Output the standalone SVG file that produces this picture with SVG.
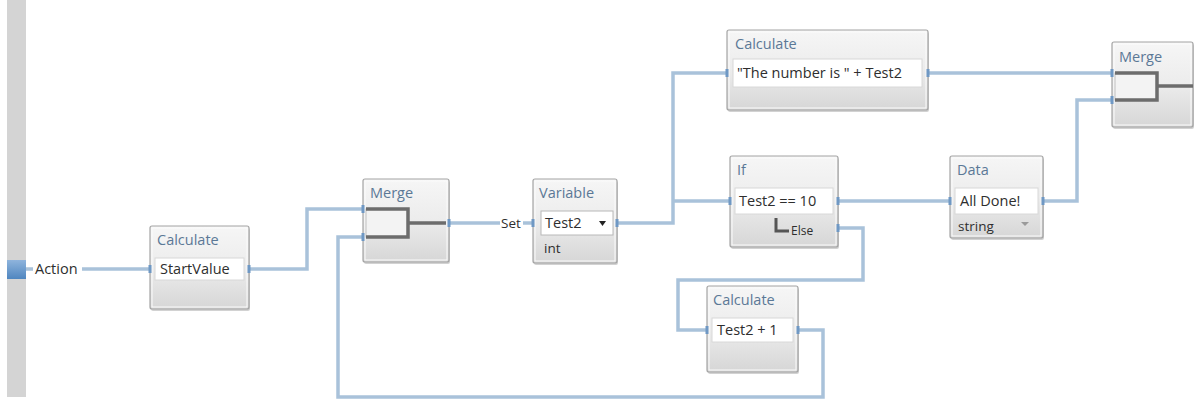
<svg xmlns="http://www.w3.org/2000/svg" width="1194" height="407" viewBox="0 0 1194 407">
<defs>
<linearGradient id="ng" x1="0" y1="0" x2="0" y2="1">
<stop offset="0" stop-color="#f6f6f6"/>
<stop offset="0.5" stop-color="#ececec"/>
<stop offset="1" stop-color="#d6d6d6"/>
</linearGradient>
<linearGradient id="bg" x1="0" y1="0" x2="0" y2="1">
<stop offset="0" stop-color="#8fb4dc"/>
<stop offset="1" stop-color="#4f86c0"/>
</linearGradient>
</defs>
<style>
.box{fill:url(#ng);stroke:#a4a4a4;stroke-width:1.2}
.inner{fill:none;stroke:#fbfbfb;stroke-width:1}
.shadow{fill:#d2d2d2}
.field{fill:#ffffff;stroke:#d8d8d8;stroke-width:1}
.hdr{font-family:"Open Sans","Noto Sans",sans-serif;font-size:14.5px;fill:#5b7896}
.txt{font-family:"Open Sans","Noto Sans",sans-serif;font-size:14.5px;fill:#2e2e2e}
.sm{font-family:"Open Sans","Noto Sans",sans-serif;font-size:13.5px;fill:#2e2e2e}
.xs{font-family:"Open Sans","Noto Sans",sans-serif;font-size:12px;fill:#2e2e2e}
.wire{fill:none;stroke:#a9c2da;stroke-width:3.5}
.port{fill:#6f98c4}
.brk{fill:none;stroke:#6c6c6c;stroke-width:3.5}
</style>
<rect x="7" y="0" width="19" height="397" fill="#d4d4d4"/>
<rect x="7" y="260" width="19" height="19" fill="url(#bg)"/>
<g id="connectors">
<path class="wire" d="M26,269 H33 M82,269 H150"/>
<path class="wire" d="M249,269 H307 V209 H363"/>
<path class="wire" d="M449,223 H500 M523,223 H533"/>
<path class="wire" d="M617,223 H673 V73 H727"/>
<path class="wire" d="M673,201 H730"/>
<path class="wire" d="M928,73 H1112"/>
<path class="wire" d="M838,201 H950"/>
<path class="wire" d="M1043,201 H1077 V100 H1112"/>
<path class="wire" d="M838,228 H863 V280 H678 V330 H707"/>
<path class="wire" d="M798,330 H823 V397 H338 V237 H363"/>
<text class="txt" x="35" y="274">Action</text>
<text class="sm" x="501" y="228">Set</text>
</g>
<g id="calc1">
<rect class="shadow" x="151" y="228" width="99" height="83" rx="2"/>
<rect class="box" x="150" y="226" width="99" height="83" rx="2"/>
<rect class="inner" x="152" y="228" width="95" height="79"/>
<text class="hdr" x="157" y="245">Calculate</text>
<rect class="field" x="155" y="258" width="89" height="22"/>
<text class="txt" x="160" y="274">StartValue</text>
<rect class="port" x="148.5" y="265" width="3" height="8"/>
<rect class="port" x="247.5" y="265" width="3" height="8"/>
</g>
<g id="merge1">
<rect class="shadow" x="364" y="181" width="86" height="83" rx="2"/>
<rect class="box" x="363" y="179" width="86" height="83" rx="2"/>
<rect class="inner" x="365" y="181" width="82" height="79"/>
<text class="hdr" x="370" y="198">Merge</text>
<rect x="366" y="209" width="42" height="28" fill="#f3f3f3" stroke="#c0c0c0"/>
<path class="brk" d="M366,209 H408 V237 H366 M408,223 H446"/>
<rect class="port" x="361.5" y="205" width="3" height="8"/>
<rect class="port" x="361.5" y="233" width="3" height="8"/>
<rect class="port" x="447.5" y="219" width="3" height="8"/>
</g>
<g id="variable">
<rect class="shadow" x="534" y="181" width="84" height="84" rx="2"/>
<rect class="box" x="533" y="179" width="84" height="84" rx="2"/>
<rect class="inner" x="535" y="181" width="80" height="80"/>
<text class="hdr" x="539" y="198">Variable</text>
<rect x="541" y="211" width="72" height="24" fill="#ffffff" stroke="#b8b8b8"/>
<text class="txt" x="545" y="228">Test2</text>
<path d="M599,221 H606 L602.5,226 Z" fill="#222"/>
<text class="sm" x="544" y="253">int</text>
<rect class="port" x="531.5" y="219" width="3" height="8"/>
<rect class="port" x="615.5" y="219" width="3" height="8"/>
</g>
<g id="calcTop">
<rect class="shadow" x="728" y="32" width="201" height="80" rx="2"/>
<rect class="box" x="727" y="30" width="201" height="80" rx="2"/>
<rect class="inner" x="729" y="32" width="197" height="76"/>
<text class="hdr" x="735" y="49">Calculate</text>
<rect class="field" x="733" y="59" width="189" height="28"/>
<text class="txt" x="737" y="78">"The number is " + Test2</text>
<rect class="port" x="725.5" y="69" width="3" height="8"/>
<rect class="port" x="926.5" y="69" width="3" height="8"/>
</g>
<g id="merge2">
<rect class="shadow" x="1113" y="44" width="81" height="85" rx="2"/>
<rect class="box" x="1112" y="42" width="81" height="85" rx="2"/>
<rect class="inner" x="1114" y="44" width="77" height="81"/>
<text class="hdr" x="1119" y="62">Merge</text>
<rect x="1115" y="73" width="42" height="27" fill="#f3f3f3" stroke="#c0c0c0"/>
<path class="brk" d="M1115,73 H1157 V100 H1115 M1157,86 H1193"/>
<rect class="port" x="1110.5" y="69" width="3" height="8"/>
<rect class="port" x="1110.5" y="96" width="3" height="8"/>
</g>
<g id="if">
<rect class="shadow" x="731" y="158" width="108" height="91" rx="2"/>
<rect class="box" x="730" y="156" width="108" height="91" rx="2"/>
<rect class="inner" x="732" y="158" width="104" height="87"/>
<text class="hdr" x="737" y="175">If</text>
<rect class="field" x="735" y="188" width="98" height="26"/>
<text class="txt" x="739" y="206">Test2 == 10</text>
<path d="M776,218 V231 H789" fill="none" stroke="#555" stroke-width="3"/>
<text class="xs" x="791" y="235">Else</text>
<rect class="port" x="728.5" y="197" width="3" height="8"/>
<rect class="port" x="836.5" y="197" width="3" height="8"/>
<rect class="port" x="836.5" y="224" width="3" height="8"/>
</g>
<g id="data">
<rect class="shadow" x="951" y="158" width="93" height="82" rx="2"/>
<rect class="box" x="950" y="156" width="93" height="82" rx="2"/>
<rect class="inner" x="952" y="158" width="89" height="78"/>
<text class="hdr" x="957" y="175">Data</text>
<rect class="field" x="955" y="188" width="83" height="26"/>
<text class="txt" x="960" y="206">All Done!</text>
<text class="sm" x="958" y="231">string</text>
<path d="M1021,222 H1029 L1025,226 Z" fill="#9a9a9a"/>
<rect class="port" x="948.5" y="197" width="3" height="8"/>
<rect class="port" x="1041.5" y="197" width="3" height="8"/>
</g>
<g id="calc3">
<rect class="shadow" x="708" y="288" width="91" height="86" rx="2"/>
<rect class="box" x="707" y="286" width="91" height="86" rx="2"/>
<rect class="inner" x="709" y="288" width="87" height="82"/>
<text class="hdr" x="713" y="305">Calculate</text>
<rect class="field" x="712" y="318" width="81" height="24"/>
<text class="txt" x="717" y="335">Test2 + 1</text>
<rect class="port" x="705.5" y="326" width="3" height="8"/>
<rect class="port" x="796.5" y="326" width="3" height="8"/>
</g>
</svg>
